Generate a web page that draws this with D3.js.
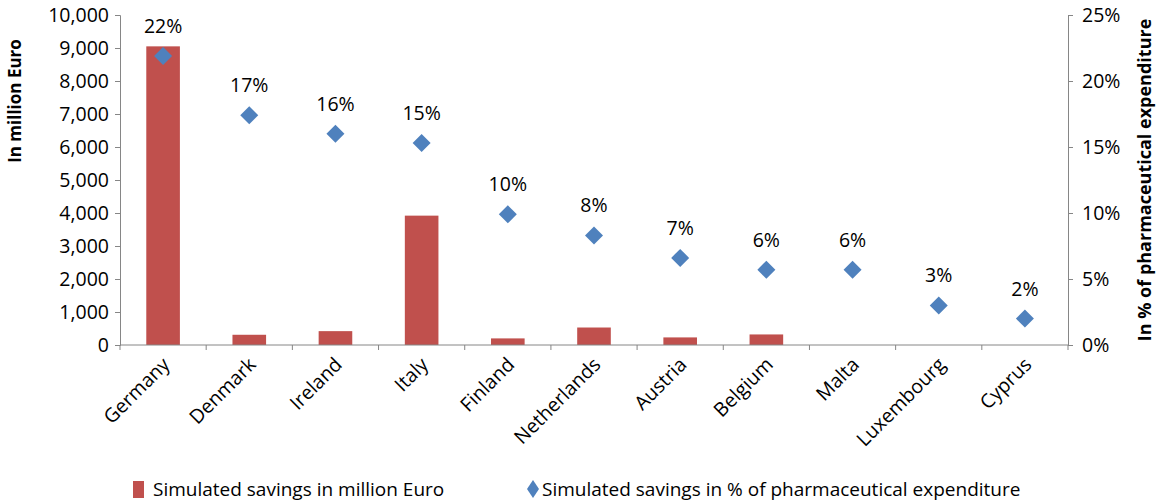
<!DOCTYPE html>
<html lang="en">
<head>
  <meta charset="UTF-8">
  <script src="https://d3js.org/d3.v7.min.js"></script>
  <title>Simulated savings</title>
  <style>
    body { margin: 0; background: #fff; }
    text { font-family: "Open Sans", "Noto Sans", sans-serif; fill: #000; }
  </style>
</head>
<body>
  <div id="wrapper"></div>
  <script>
    const countries = ["Germany", "Denmark", "Ireland", "Italy", "Finland", "Netherlands",
                       "Austria", "Belgium", "Malta", "Luxembourg", "Cyprus"]
    const savingsMio = [9050, 310, 420, 3920, 200, 530, 230, 320, 0, 0, 0]
    const savingsPct = [21.9, 17.4, 16.0, 15.3, 9.9, 8.3, 6.6, 5.7, 5.7, 3.0, 2.0]
    const pctLabels = ["22%", "17%", "16%", "15%", "10%", "8%", "7%", "6%", "6%", "3%", "2%"]
    const leftTicks = [0, 1000, 2000, 3000, 4000, 5000, 6000, 7000, 8000, 9000, 10000]
    const rightTicks = [0, 5, 10, 15, 20, 25]

    const width = 1157, height = 502
    const margin = { top: 15, right: 89, bottom: 157, left: 120 }
    const bw = width - margin.left - margin.right
    const bh = height - margin.top - margin.bottom
    const fs = "19.5px"

    const barColor = "#C0504D", dotColor = "#4F81BD", axisColor = "#868686"

    const svg = d3.select("#wrapper").append("svg")
      .attr("width", width).attr("height", height)

    const bounds = svg.append("g")
      .attr("transform", `translate(${margin.left},${margin.top})`)

    const x = d3.scaleBand().domain(countries).range([0, bw])
    const yL = d3.scaleLinear().domain([0, 10000]).range([bh, 0])
    const yR = d3.scaleLinear().domain([0, 25]).range([bh, 0])

    // bars
    const barW = x.bandwidth() * 0.39
    bounds.selectAll("rect.bar")
      .data(countries)
      .join("rect")
      .attr("class", "bar")
      .attr("x", d => x(d) + x.bandwidth() / 2 - barW / 2)
      .attr("y", (d, i) => yL(savingsMio[i]))
      .attr("width", barW)
      .attr("height", (d, i) => bh - yL(savingsMio[i]))
      .attr("fill", barColor)

    // axes
    const styleAxis = g => {
      g.select(".domain").attr("stroke", axisColor)
      g.selectAll(".tick line").attr("stroke", axisColor)
      g.selectAll(".tick text").style("font-size", fs)
    }

    bounds.append("g")
      .call(d3.axisLeft(yL).tickValues(leftTicks).tickFormat(d3.format(",")).tickSizeOuter(0).tickSize(5).tickPadding(6))
      .call(styleAxis)

    bounds.append("g")
      .attr("transform", `translate(${bw},0)`)
      .call(d3.axisRight(yR).tickValues(rightTicks).tickFormat(d => d + "%").tickSizeOuter(0).tickSize(5).tickPadding(9))
      .call(styleAxis)

    const xAxis = bounds.append("g").attr("transform", `translate(0,${bh})`)
    xAxis.append("line").attr("x1", 0).attr("x2", bw).attr("stroke", axisColor)
    xAxis.selectAll("line.tk")
      .data(d3.range(countries.length + 1))
      .join("line")
      .attr("class", "tk")
      .attr("x1", i => i * x.step()).attr("x2", i => i * x.step())
      .attr("y1", 0).attr("y2", 5)
      .attr("stroke", axisColor)
    xAxis.selectAll("text")
      .data(countries)
      .join("text")
      .attr("transform", d => `translate(${x(d) + x.bandwidth() / 2 + 3},${16}) rotate(-45)`)
      .attr("text-anchor", "end")
      .attr("dy", "0.35em")
      .style("font-size", fs)
      .text(d => d)

    // diamonds
    bounds.selectAll("path.dot")
      .data(countries)
      .join("path")
      .attr("class", "dot")
      .attr("d", "M0,-9L9,0L0,9L-9,0Z")
      .attr("transform", (d, i) => `translate(${x(d) + x.bandwidth() / 2},${yR(savingsPct[i])})`)
      .attr("fill", dotColor)

    bounds.selectAll("text.lbl")
      .data(countries)
      .join("text")
      .attr("class", "lbl")
      .attr("x", d => x(d) + x.bandwidth() / 2)
      .attr("y", (d, i) => yR(savingsPct[i]) - 23)
      .attr("text-anchor", "middle")
      .style("font-size", fs)
      .text((d, i) => pctLabels[i])

    // axis titles
    svg.append("text")
      .attr("transform", `translate(21,101) rotate(-90)`)
      .attr("text-anchor", "middle")
      .style("font-size", "17px").style("font-weight", "bold")
      .text("In million Euro")

    svg.append("text")
      .attr("transform", `translate(1151,180) rotate(-90)`)
      .attr("text-anchor", "middle")
      .style("font-size", "18px").style("font-weight", "bold")
      .text("In % of pharmaceutical expenditure")

    // legend
    const legend = svg.append("g").attr("transform", "translate(0,489)")
    legend.append("rect").attr("x", 133).attr("y", -8).attr("width", 11).attr("height", 17).attr("fill", barColor)
    legend.append("text").attr("x", 153).attr("dy", "0.35em").style("font-size", "19px")
      .text("Simulated savings in million Euro")
    legend.append("path").attr("d", "M0,-9L6,0L0,9L-6,0Z").attr("transform", "translate(533,0)").attr("fill", dotColor)
    legend.append("text").attr("x", 542).attr("dy", "0.35em").style("font-size", "19px")
      .text("Simulated savings in % of pharmaceutical expenditure")
  </script>
</body>
</html>
